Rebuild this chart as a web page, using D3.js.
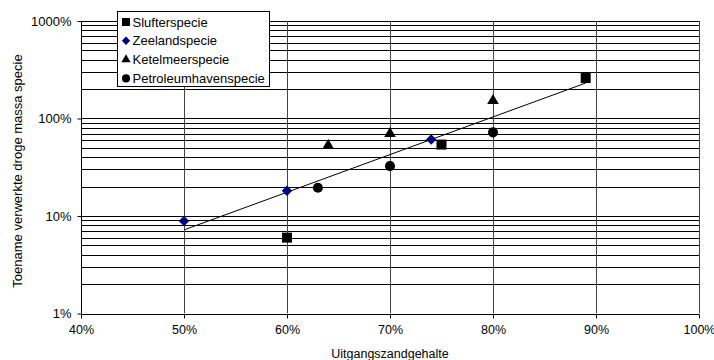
<!DOCTYPE html>
<html>
<head>
<meta charset="utf-8">
<script src="https://cdn.jsdelivr.net/npm/d3@7"></script>
<style>
  body { margin: 0; background: #fff; }
  svg { font-family: Arial, "Liberation Sans", sans-serif; }
</style>
</head>
<body>
<svg id="chart" width="714" height="360"></svg>
<script>
// series values (x = uitgangszandgehalte %, y = toename %)
const seriesNames = ["Slufterspecie", "Zeelandspecie", "Ketelmeerspecie", "Petroleumhavenspecie"]
const slufterX = [60, 75, 89]
const slufterY = [6.0, 54, 260]
const zeelandX = [50, 60, 74]
const zeelandY = [8.9, 18.2, 61]
const ketelX = [64, 70, 80]
const ketelY = [53, 70, 152]
const petroX = [63, 70, 80]
const petroY = [19.5, 32.5, 72]
// trendline endpoints
const trendX = [50, 89]
const trendY = [7.2, 231]

const xTicks = [40, 50, 60, 70, 80, 90, 100]
const yTicks = [1, 10, 100, 1000]

const svg = d3.select("#chart")
const plotLeft = 81, plotRight = 699, plotTop = 21, plotBottom = 313.5

const x = d3.scaleLinear().domain([40, 100]).range([plotLeft, plotRight])
const y = d3.scaleLog().domain([1, 1000]).range([plotBottom, plotTop])

// horizontal grid (major + minor)
let hLines = []
for (let d = 1; d < 1000; d *= 10) {
  for (let k = 1; k <= 10; k++) hLines.push(d * k)
}
hLines = Array.from(new Set(hLines))
svg.append("g")
  .selectAll("line")
  .data(hLines)
  .enter().append("line")
  .attr("x1", plotLeft).attr("x2", plotRight)
  .attr("y1", d => Math.round(y(d)) + 0.5)
  .attr("y2", d => Math.round(y(d)) + 0.5)
  .attr("stroke", "#000")
  .attr("stroke-width", 1)

// vertical grid
svg.append("g")
  .selectAll("line")
  .data(xTicks)
  .enter().append("line")
  .attr("x1", d => Math.round(x(d)) + 0.5)
  .attr("x2", d => Math.round(x(d)) + 0.5)
  .attr("y1", plotTop).attr("y2", plotBottom)
  .attr("stroke", "#444")
  .attr("stroke-width", 1)

// axes
const xAxis = svg.append("g")
  .attr("transform", `translate(0,${Math.round(plotBottom) + 0.5})`)
  .call(d3.axisBottom(x).tickValues(xTicks).tickSize(4).tickPadding(8).tickFormat(d => d + "%"))
const yAxis = svg.append("g")
  .attr("transform", `translate(${plotLeft + 0.5},0)`)
  .call(d3.axisLeft(y).tickValues(yTicks).tickSize(4).tickPadding(6).tickFormat(d => d + "%"))
for (const a of [xAxis, yAxis]) {
  a.select(".domain").attr("stroke", "#000")
  a.selectAll(".tick line").attr("stroke", "#000")
  a.selectAll("text").attr("font-size", 13).attr("fill", "#000").attr("font-family", "Arial, 'Liberation Sans', sans-serif")
}
xAxis.selectAll("text").attr("dy", "0.6em").attr("font-size", 12.5)
xAxis.select(".domain").attr("d", `M${plotLeft},0H${plotRight}`)
yAxis.select(".domain").attr("d", `M0,${plotTop}V${plotBottom}`)

// trendline
svg.append("line")
  .attr("x1", x(trendX[0])).attr("y1", y(trendY[0]))
  .attr("x2", x(trendX[1])).attr("y2", y(trendY[1]))
  .attr("stroke", "#000").attr("stroke-width", 1)

// markers
const sym = {
  Slufterspecie: { type: d3.symbolSquare, size: 100, color: "#000", rot: 0 },
  Zeelandspecie: { type: d3.symbolSquare, size: 55, color: "#000080", rot: 45 },
  Ketelmeerspecie: { type: d3.symbolTriangle, size: 58, color: "#000", rot: 0 },
  Petroleumhavenspecie: { type: d3.symbolCircle, size: 80, color: "#000", rot: 0 }
}
const seriesData = [
  [slufterX, slufterY],
  [zeelandX, zeelandY],
  [ketelX, ketelY],
  [petroX, petroY]
]

function drawSymbol(g, name, cx, cy, k) {
  const s = sym[name]
  const path = d3.symbol().type(s.type).size(s.size * k * k)()
  return g.append("path")
    .attr("d", path)
    .attr("fill", s.color)
    .attr("transform", `translate(${cx},${cy}) rotate(${s.rot})`)
}

seriesNames.forEach((name, i) => {
  const g = svg.append("g")
  const xs = seriesData[i][0], ys = seriesData[i][1]
  xs.forEach((xv, j) => drawSymbol(g, name, x(xv), y(ys[j]), 1))
})

// legend
const legend = svg.append("g")
legend.append("rect")
  .attr("x", 117.5).attr("y", 11.5).attr("width", 152).attr("height", 75)
  .attr("fill", "#fff").attr("stroke", "#000").attr("stroke-width", 1)
seriesNames.forEach((name, i) => {
  const cy = 22 + i * 18.8
  drawSymbol(legend, name, 126, cy, 0.8)
  legend.append("text")
    .attr("x", 132.5).attr("y", cy).attr("dy", "0.35em")
    .attr("font-size", 13).text(name)
})

// axis titles
svg.append("text")
  .attr("x", 390).attr("y", 358).attr("text-anchor", "middle")
  .attr("font-size", 12.5).text("Uitgangszandgehalte")
svg.append("text")
  .attr("transform", "translate(22,171) rotate(-90)")
  .attr("text-anchor", "middle")
  .attr("font-size", 13).text("Toename verwerkte droge massa specie")
</script>
</body>
</html>
